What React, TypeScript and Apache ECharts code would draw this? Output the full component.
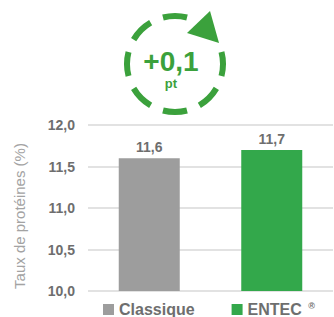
import React, { useEffect, useRef } from "react";
import * as echarts from "echarts";

const categories = ["Classique", "ENTEC"];
const classiqueValues = [11.6, "-"];
const entecValues = ["-", 11.7];
const yMin = 10;
const yMax = 12;
const yInterval = 0.5;
const axisName = "Taux de protéines (%)";
const gainText = "+0,1";
const gainUnit = "pt";

const GRAY = "#9d9d9d";
const GREEN = "#33a84b";
const CIRCLE_GREEN = "#3ba13c";
const TEXT = "#6e6e6e";
const FONT = "Liberation Sans, Arial, sans-serif";

export default function App() {
  const ref = useRef<HTMLDivElement>(null);
  useEffect(() => {
    if (!ref.current) return;
    const chart = echarts.init(ref.current, null, { renderer: "svg" });
    const cx = 175, cy = 64, r = 48;
    const half = (14.5 * Math.PI) / 180;
    const centers = [-90, -135, 180, 135, 90, 45, 0];
    const arcs = centers.map((deg) => {
      const a = (deg * Math.PI) / 180;
      return {
        type: "arc",
        shape: { cx, cy, r, startAngle: a - half, endAngle: a + half },
        style: { stroke: CIRCLE_GREEN, lineWidth: 6, fill: null, lineCap: "butt" },
        silent: true,
      };
    });
    const fmt = (v: number) => v.toFixed(1).replace(".", ",");
    const barLabel = {
      show: true,
      position: "top",
      distance: 4,
      formatter: (p: any) => fmt(p.value),
      color: TEXT,
      fontWeight: "bold",
      fontSize: 14,
      fontFamily: FONT,
    };
    chart.setOption({
      animation: false,
      grid: { left: 88, right: 1, top: 125, bottom: 26 },
      legend: {
        left: 103,
        top: 301,
        padding: 0,
        itemWidth: 11,
        itemHeight: 11,
        itemGap: 37,
        icon: "rect",
        data: categories,
        formatter: (name: string) => (name === "ENTEC" ? "ENTEC {sup|®}" : name),
        textStyle: {
          color: TEXT,
          fontWeight: "bold",
          fontSize: 16,
          fontFamily: FONT,
          rich: {
            sup: {
              fontSize: 9,
              color: TEXT,
              verticalAlign: "top",
              padding: [0, 0, 8, 2],
              fontFamily: FONT,
            },
          },
        },
      },
      xAxis: {
        type: "category",
        data: categories,
        axisLine: { show: false },
        axisTick: { show: false },
        axisLabel: { show: false },
      },
      yAxis: {
        type: "value",
        min: yMin,
        max: yMax,
        interval: yInterval,
        axisLine: { show: false },
        axisTick: { show: false },
        axisLabel: {
          formatter: (v: number) => fmt(v),
          color: TEXT,
          fontWeight: "bold",
          fontSize: 14,
          margin: 13,
          fontFamily: FONT,
        },
        splitLine: { lineStyle: { color: "#e2e2e2", width: 2 } },
      },
      series: [
        {
          name: "Classique",
          type: "bar",
          data: classiqueValues,
          barWidth: 61,
          barGap: "-100%",
          itemStyle: { color: GRAY },
          label: barLabel,
        },
        {
          name: "ENTEC",
          type: "bar",
          data: entecValues,
          barWidth: 61,
          barGap: "-100%",
          itemStyle: { color: GREEN },
          label: barLabel,
        },
      ],
      graphic: [
        {
          type: "text",
          x: 19,
          y: 216,
          rotation: Math.PI / 2,
          style: {
            text: axisName,
            fill: "#a3a3a3",
            fontSize: 15,
            fontFamily: FONT,
            align: "center",
            verticalAlign: "middle",
          },
        },
        ...arcs,
        {
          type: "polygon",
          shape: { points: [[210, 11], [187, 33], [219, 43]] },
          style: { fill: CIRCLE_GREEN },
        },
        {
          type: "text",
          x: 171,
          y: 61,
          style: {
            text: gainText,
            fill: CIRCLE_GREEN,
            fontSize: 28,
            fontWeight: "bold",
            fontFamily: FONT,
            align: "center",
            verticalAlign: "middle",
          },
        },
        {
          type: "text",
          x: 171,
          y: 83,
          style: {
            text: gainUnit,
            fill: CIRCLE_GREEN,
            fontSize: 13,
            fontWeight: "bold",
            fontFamily: FONT,
            align: "center",
            verticalAlign: "middle",
          },
        },
      ],
    });
    return () => chart.dispose();
  }, []);
  return <div ref={ref} style={{ width: 334, height: 317, position: "absolute", left: 0, top: 0 }} />;
}
